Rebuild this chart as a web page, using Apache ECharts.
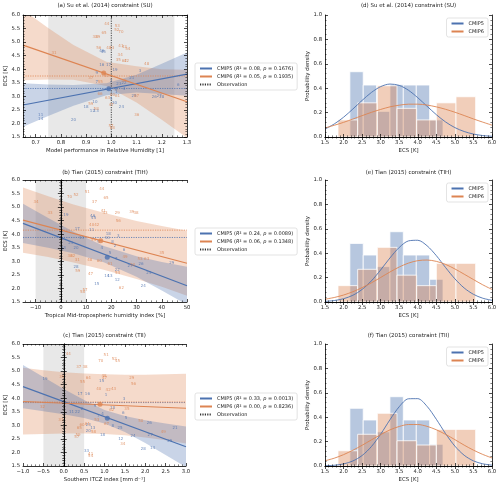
<!DOCTYPE html>
<html><head><meta charset="utf-8">
<script src="https://cdn.jsdelivr.net/npm/echarts@6/dist/echarts.min.js"></script>
<style>html,body{margin:0;padding:0;background:#fff}#c{width:500px;height:487px}</style>
</head><body><div id="c"></div>
<script>
// ================= DATA =================
const C5 = '#4c72b0', C6 = '#dd8452';
const FONT = 'DejaVu Sans';

const panelTitles = ['(a) Su et al. (2014) constraint (SU)', '(b) Tian (2015) constraint (TIH)', '(c) Tian (2015) constraint (TII)',
  '(d) Su et al. (2014) constraint (SU)', '(e) Tian (2015) constraint (TIH)', '(f) Tian (2015) constraint (TII)'];
const xNames = ['Model performance in Relative Humidity [1]', 'Tropical Mid-tropospheric humidity index [%]', 'Southern ITCZ index [mm d\u207B\u00B9]'];
const xMins = [0.65, -15, -1];
const xMaxs = [1.3, 50, 3];
const xTicks = [[0.7, 0.8, 0.9, 1.0, 1.1, 1.2, 1.3], [-10, 0, 10, 20, 30, 40, 50], [-1, -0.5, 0, 0.5, 1, 1.5, 2, 2.5, 3]];
const xDec = [1, 0, 1];
const ecsTicks = [1.5, 2.0, 2.5, 3.0, 3.5, 4.0, 4.5, 5.0, 5.5, 6.0];

const leg5 = ['CMIP5 (R\u00B2 = 0.08, p = 0.1676)', 'CMIP5 (R\u00B2 = 0.24, p = 0.0089)', 'CMIP5 (R\u00B2 = 0.33, p = 0.0013)'];
const leg6 = ['CMIP6 (R\u00B2 = 0.05, p = 0.1935)', 'CMIP6 (R\u00B2 = 0.06, p = 0.1348)', 'CMIP6 (R\u00B2 = 0.00, p = 0.8236)'];

// scatter points [x, ECS, model number]
const a5 = [[0.962,4.15,'16'],[0.989,4.15,'17'],[1.015,3.99,'19'],[1.114,3.95,'3'],[0.942,3.85,'9'],[1.081,3.66,'21'],
  [0.942,3.54,'7'],[1.05,3.50,'22'],[1.02,3.27,'8'],[1.05,3.27,'4'],[1.09,3.0,'25'],[1.17,2.98,'26'],[1.19,3.0,'27'],
  [1.013,2.75,'30'],[1.04,2.62,'24'],[0.90,2.62,'18'],[0.925,2.45,'12'],[0.94,2.47,'13'],[0.72,2.31,'11'],[0.72,2.15,'14'],
  [0.85,2.13,'20'],[0.962,4.67,'46'],[0.968,4.62,'45'],[1.0,3.55,'2'],[1.03,3.45,'23'],[0.935,2.8,'10'],[1.0,2.9,'5'],
  [1.265,3.42,'6'],[1.2,2.98,'28'],[1.02,3.15,'1']];
const a6 = [[0.982,5.66,'44'],[1.024,5.59,'53'],[1.022,5.45,'52'],[1.038,5.36,'70'],[0.971,5.35,'65'],[0.936,5.18,'38'],
  [0.946,5.18,'39'],[1.038,4.87,'41'],[1.051,4.81,'43'],[1.065,4.75,'54'],[0.95,4.77,'56'],[1.002,4.77,'33'],[0.773,4.61,'31'],
  [1.035,4.52,'34'],[1.028,4.34,'35'],[1.051,4.30,'62'],[0.919,3.69,'37'],[0.956,3.54,'55'],[1.005,3.05,'60'],[1.025,3.0,'61'],
  [0.985,2.95,'63'],[1.1,3.0,'67'],[0.919,2.72,'59'],[0.94,2.55,'58'],[1.101,2.31,'36'],[0.999,1.9,'57'],[1.004,1.82,'68'],
  [1.0,2.7,'47'],[1.05,3.55,'49'],[0.98,3.75,'50'],[1.06,4.3,'42'],[0.99,4.77,'40'],[1.14,4.2,'48'],[0.955,3.1,'66']];
const b5 = [[2.0,4.71,'19'],[6.5,4.18,'17'],[12.6,4.67,'46'],[13.0,4.6,'45'],[12.2,4.15,'11'],[18.8,4.0,'18'],[8.2,3.87,'13'],
  [18.4,3.85,'10'],[22.8,3.93,'3'],[3.9,3.66,'21'],[14.9,3.72,'9'],[20.5,3.72,'8'],[1.0,3.48,'23'],[6.0,3.5,'20'],[16.2,3.48,'4'],
  [25,3.42,'6'],[21.5,3.56,'2'],[19.5,3.3,'5'],[6.0,2.78,'28'],[27.4,2.83,'27'],[31.8,2.9,'26'],[22.4,2.68,'22'],[34.9,2.58,'25'],
  [18.2,2.46,'14'],[19.5,2.46,'13'],[22.4,2.33,'12'],[32.7,2.1,'24'],[14.2,2.16,'15'],[0.5,3.45,'1'],[22,3.1,'7'],[44,2.94,'29']];
const b6 = [[16.2,5.66,'44'],[10.5,5.57,'51'],[6.0,5.45,'52'],[3.4,5.38,'70'],[17.9,5.35,'65'],[13.3,5.18,'37'],[-9.8,5.2,'34'],
  [28.1,4.83,'39'],[29.8,4.77,'38'],[-4.3,4.79,'33'],[22.4,4.77,'29'],[16.8,4.86,'41'],[17.5,4.8,'43'],[22.8,4.49,'56'],
  [12.2,4.36,'40'],[14.2,4.34,'42'],[13.0,3.78,'55'],[3.6,3.2,'36'],[4.7,3.2,'32'],[6.5,3.05,'31'],[25.4,3.17,'49'],[11.5,3.05,'48'],
  [15.2,3.02,'60'],[31.4,3.09,'53'],[34,3.09,'63'],[6.7,2.64,'59'],[19.5,2.9,'61'],[11.8,2.53,'47'],[40,3.3,'35'],[9.6,1.94,'57'],
  [8.6,1.86,'58'],[28.5,2.85,'50'],[22.5,2.58,'54'],[24,2.0,'62']];
const c5 = [[-0.46,4.7,'19'],[0.93,4.64,'15'],[0.4,4.16,'17'],[0.58,4.16,'16'],[1.04,4.12,'1'],[1.48,3.98,'3'],[0.19,3.51,'11'],
  [0.34,3.51,'22'],[0.77,3.72,'9'],[1.46,3.47,'6'],[1.53,3.28,'5'],[0.95,3.42,'4'],[1.2,2.98,'8'],[0.71,2.9,'13'],[1.38,2.9,'25'],
  [0.95,2.64,'18'],[2.12,2.64,'27'],[2.18,2.15,'14'],[1.95,2.12,'28'],[1.4,2.48,'12'],[2.73,2.9,'21'],[0.56,2.05,'33'],
  [0.6,2.8,'20'],[0.45,3.6,'2'],[1.2,3.65,'10'],[2.6,2.42,'29'],[0.85,3.35,'7'],[0.6,3.0,'23'],[2.1,3.1,'26'],[1.7,2.6,'24']];
const c6 = [[0.11,5.64,'44'],[1.04,5.58,'51'],[1.24,5.44,'52'],[1.32,5.36,'45'],[0.91,5.36,'70'],[0.37,5.17,'37'],[0.52,5.17,'38'],
  [-0.05,4.77,'39'],[0.46,4.59,'55'],[0.6,4.74,'64'],[0.99,4.82,'48'],[1.0,4.76,'47'],[1.67,4.74,'29'],[1.71,4.52,'56'],
  [0.86,4.33,'40'],[1.09,4.31,'42'],[1.22,4.35,'43'],[-0.52,3.67,'32'],[1.18,3.57,'62'],[-0.07,3.2,'31'],[1.89,3.16,'50'],
  [0.81,3.2,'53'],[1.05,3.05,'67'],[0.58,3.05,'61'],[0.38,2.91,'65'],[0.73,2.74,'58'],[0.32,2.56,'57'],[2.44,2.77,'49'],
  [1.45,2.33,'34'],[0.66,1.96,'41'],[0.66,1.88,'54'],[1.55,3.62,'35'],[0.45,3.0,'60'],[0.35,2.65,'59']];
const pts5 = [a5, b5, c5], pts6 = [a6, b6, c6];

// regression line ECS values at xMin and xMax
const reg5 = [[2.68, 3.82], [4.40, 2.10], [4.43, 2.21]];
const reg6 = [[4.89, 2.80], [4.52, 2.93], [3.88, 3.63]];
// confidence bands
const bandX = [[0.65,0.75,0.85,0.98,1.1,1.2,1.3], [-15,-5,5,17,30,40,50], [-1,-0.5,0,0.5,1,1.5,2,2.5,3]];
const band5Up = [[3.48,3.44,3.42,3.48,3.80,4.20,4.62], [5.12,4.60,4.09,3.57,3.19,2.98,2.80], [5.23,4.78,4.34,3.93,3.57,3.34,3.19,3.07,2.96]];
const band5Lo = [[1.88,2.27,2.65,3.04,3.14,3.09,3.02], [3.68,3.50,3.30,2.97,2.43,1.92,1.40], [3.63,3.52,3.41,3.27,3.07,2.75,2.35,1.91,1.46]];
const band6Up = [[6.19,5.52,4.89,4.28,4.11,4.00,3.98], [5.72,5.40,5.10,4.79,4.49,4.30,4.13], [5.12,5.03,4.96,4.91,4.88,4.87,4.87,4.88,4.90]];
const band6Lo = [[3.59,3.62,3.61,3.38,2.77,2.14,1.47], [3.32,3.16,2.96,2.69,2.35,2.06,1.73], [2.66,2.68,2.70,2.70,2.68,2.63,2.55,2.45,2.33]];
// observations
const obsX = [1.0, 0, 0];
const obsLo = [0.75, -10, -0.5];
const obsHi = [1.25, 10, 0.5];
const constr5 = [3.29, 3.88, 3.84];
const constr6 = [3.75, 4.15, 3.86];
const mean5 = [[0.99, 3.28], [18.4, 3.15], [1.07, 3.26]];
const mean6 = [[0.97, 3.86], [15.8, 3.76], [0.89, 3.78]];

// histograms
const histEdges5 = [2.17, 2.53, 2.89, 3.25, 3.61, 3.96, 4.32, 4.68];
const histEdges6 = [1.85, 2.38, 2.91, 3.44, 3.97, 4.50, 5.03, 5.56];
const hist5 = [[0.535,0.426,0.21,0.43,0.426,0.426,0.14], [0.48,0.385,0.29,0.576,0.385,0.385,0.186], [0.473,0.377,0.28,0.568,0.377,0.377,0.178]];
const hist6 = [[0.14,0.28,0.42,0.235,0.14,0.28,0.33], [0.134,0.268,0.448,0.22,0.134,0.317,0.317], [0.125,0.26,0.432,0.207,0.172,0.30,0.30]];
const pdfX = [1.5,1.75,2,2.25,2.5,2.75,3,3.25,3.5,3.75,4,4.25,4.5,4.75,5,5.25,5.5,5.75,6];
const pdf5 = [
  [0.065,0.107,0.162,0.229,0.300,0.365,0.413,0.434,0.423,0.383,0.322,0.252,0.183,0.123,0.077,0.045,0.024,0.012,0.006],
  [0.005,0.012,0.027,0.055,0.103,0.173,0.263,0.361,0.447,0.501,0.506,0.461,0.380,0.282,0.190,0.115,0.063,0.031,0.014],
  [0.002,0.006,0.017,0.041,0.086,0.159,0.261,0.379,0.486,0.551,0.552,0.489,0.383,0.265,0.163,0.088,0.042,0.018,0.007]];
const pdf6 = [
  [0.074,0.096,0.120,0.147,0.175,0.202,0.226,0.247,0.261,0.269,0.269,0.262,0.247,0.227,0.203,0.176,0.148,0.122,0.097],
  [0.023,0.037,0.057,0.084,0.118,0.157,0.201,0.246,0.287,0.319,0.339,0.344,0.333,0.308,0.271,0.228,0.184,0.141,0.103],
  [0.043,0.064,0.093,0.129,0.170,0.214,0.257,0.296,0.324,0.340,0.340,0.325,0.297,0.259,0.216,0.171,0.130,0.095,0.066]];
const histXTicks = [1.5,2.0,2.5,3.0,3.5,4.0,4.5,5.0,5.5,6.0];
const densTicks = [0,0.2,0.4,0.6,0.8,1.0];

// ================= LAYOUT / STYLE =================
const grids = [
  {left: 23, top: 15, width: 164, height: 122},
  {left: 23, top: 180, width: 164, height: 122},
  {left: 23, top: 344, width: 163, height: 122},
  {left: 325, top: 15, width: 167, height: 122},
  {left: 325, top: 180, width: 167, height: 122},
  {left: 325, top: 344, width: 167, height: 122}
];
const titleY = [6, 173, 336, 6, 173, 336];
const legendTops = [63, 228, 393];

const fmt = d => v => (v < 0 ? '\u2212' : '') + Math.abs(v).toFixed(d);
const lineBlack = {show: true, lineStyle: {color: '#000', width: 0.8}};
const tickStyle = {show: true, inside: true, length: 3, lineStyle: {color: '#000', width: 0.7}};
const minorStyle = {show: true, splitNumber: 5, length: 1.6, lineStyle: {color: '#000', width: 0.5}};
const labelBase = {fontSize: 5.3, color: '#222', fontFamily: FONT, margin: 3};
const nameStyle = {fontSize: 5.4, color: '#222', fontFamily: FONT};

const xAxis = [], yAxis = [], series = [], legend = [], graphic = [];

function addAxes(gi, xmin, xmax, xt, xf, xname, ymin, ymax, yt, yf, yname, yGap) {
  const useInt = xt[1] - xt[0];
  const xCommon = {type: 'value', gridIndex: gi, min: xmin, max: xmax, z: 10, axisLine: lineBlack, splitLine: {show: false}, minorTick: minorStyle};
  const exact = Math.abs(xmin - xt[0]) < 1e-9;
  if (exact) xCommon.interval = useInt;
  xAxis.push(Object.assign({}, xCommon, {
    position: 'bottom', name: xname, nameLocation: 'middle', nameGap: 11, nameTextStyle: nameStyle,
    axisTick: exact ? tickStyle : Object.assign({}, tickStyle, {customValues: xt}),
    axisLabel: exact ? Object.assign({}, labelBase, {formatter: xf}) : Object.assign({}, labelBase, {formatter: xf, customValues: xt})
  }));
  xAxis.push(Object.assign({}, xCommon, {
    position: 'top', axisLabel: {show: false},
    axisTick: exact ? tickStyle : Object.assign({}, tickStyle, {customValues: xt})
  }));
  const yCommon = {type: 'value', gridIndex: gi, min: ymin, max: ymax, interval: yt[1] - yt[0], z: 10, axisLine: lineBlack, splitLine: {show: false}, minorTick: minorStyle, axisTick: tickStyle};
  yAxis.push(Object.assign({}, yCommon, {
    position: 'left', name: yname, nameLocation: 'middle', nameGap: yGap, nameTextStyle: nameStyle,
    axisLabel: Object.assign({}, labelBase, {formatter: yf})
  }));
  yAxis.push(Object.assign({}, yCommon, {position: 'right', axisLabel: {show: false}}));
}

function polyBand(gi, xs, up, lo, color) {
  return {
    type: 'custom', xAxisIndex: 2 * gi, yAxisIndex: 2 * gi, clip: true, silent: true, z: 1,
    data: [[xs[0], up[0]]],
    renderItem: (params, api) => {
      const pts = [];
      for (let i = 0; i < xs.length; i++) pts.push(api.coord([xs[i], up[i]]));
      for (let i = xs.length - 1; i >= 0; i--) pts.push(api.coord([xs[i], lo[i]]));
      const cs = params.coordSys;
      return {type: 'polygon', shape: {points: pts}, style: {fill: color},
        clipPath: {type: 'rect', shape: {x: cs.x, y: cs.y, width: cs.width, height: cs.height}}};
    }
  };
}

function histBars(gi, edges, heights, color) {
  return {
    type: 'custom', xAxisIndex: 2 * gi, yAxisIndex: 2 * gi, silent: true, z: 2,
    data: heights.map((h, i) => [edges[i], edges[i + 1], h]),
    encode: {x: [0, 1], y: 2},
    renderItem: (params, api) => {
      const p0 = api.coord([api.value(0), api.value(2)]);
      const p1 = api.coord([api.value(1), 0]);
      return {type: 'rect', shape: {x: p0[0], y: p0[1], width: p1[0] - p0[0], height: p1[1] - p0[1]},
        style: {fill: color, stroke: '#fff', lineWidth: 0.8}};
    }
  };
}

function legendBase() {
  return {orient: 'vertical', backgroundColor: 'rgba(255,255,255,0.9)', borderColor: '#d0d0d0', borderWidth: 0.6, borderRadius: 2,
    padding: [3, 4, 3, 4], itemGap: 3, itemWidth: 12, itemHeight: 5, selectedMode: false,
    itemStyle: {opacity: 0}};
}

// ---- scatter / regression panels ----
for (let i = 0; i < 3; i++) {
  const xf = fmt(xDec[i]);
  addAxes(i, xMins[i], xMaxs[i], xTicks[i], xf, xNames[i], 1.5, 6.0, ecsTicks, fmt(1), 'ECS [K]', 14);
  const xa = 2 * i;
  series.push(polyBand(i, bandX[i], band6Up[i], band6Lo[i], 'rgba(221,132,82,0.30)'));
  series.push(polyBand(i, bandX[i], band5Up[i], band5Lo[i], 'rgba(76,114,176,0.30)'));
  series.push({
    type: 'line', name: 'Observation', xAxisIndex: xa, yAxisIndex: xa, z: 3, symbol: 'none', silent: true,
    data: [[obsX[i], 1.5], [obsX[i], 6.0]], lineStyle: {color: '#333', width: 0.9, type: [1.2, 1.2]}, itemStyle: {color: '#333'},
    markArea: {silent: true, itemStyle: {color: 'rgba(128,128,128,0.18)'}, data: [[{xAxis: obsLo[i]}, {xAxis: obsHi[i]}]]}
  });
  series.push({type: 'line', xAxisIndex: xa, yAxisIndex: xa, z: 3, symbol: 'none', silent: true,
    data: [[xMins[i], constr5[i]], [xMaxs[i], constr5[i]]], lineStyle: {color: C5, width: 0.8, type: [1.2, 1.2]}});
  series.push({type: 'line', xAxisIndex: xa, yAxisIndex: xa, z: 3, symbol: 'none', silent: true,
    data: [[xMins[i], constr6[i]], [xMaxs[i], constr6[i]]], lineStyle: {color: C6, width: 0.8, type: [1.2, 1.2]}});
  series.push({type: 'line', name: leg5[i], xAxisIndex: xa, yAxisIndex: xa, z: 4, symbol: 'none', silent: true,
    data: [[xMins[i], reg5[i][0]], [xMaxs[i], reg5[i][1]]], lineStyle: {color: C5, width: 1.2}, itemStyle: {color: C5}});
  series.push({type: 'line', name: leg6[i], xAxisIndex: xa, yAxisIndex: xa, z: 4, symbol: 'none', silent: true,
    data: [[xMins[i], reg6[i][0]], [xMaxs[i], reg6[i][1]]], lineStyle: {color: C6, width: 1.2}, itemStyle: {color: C6}});
  [[pts5[i], C5], [pts6[i], C6]].forEach(([d, col]) => {
    series.push({type: 'scatter', xAxisIndex: xa, yAxisIndex: xa, z: 5, silent: true, symbolSize: 1,
      itemStyle: {color: 'rgba(0,0,0,0)'}, data: d,
      label: {show: true, position: 'inside', formatter: p => p.value[2], fontSize: 4, color: col, fontFamily: FONT}});
  });
  series.push({type: 'scatter', xAxisIndex: xa, yAxisIndex: xa, z: 6, silent: true, symbolSize: 5, data: [mean5[i]], itemStyle: {color: C5}});
  series.push({type: 'scatter', xAxisIndex: xa, yAxisIndex: xa, z: 6, silent: true, symbolSize: 5, data: [mean6[i]], itemStyle: {color: C6}});
  legend.push(Object.assign(legendBase(), {
    left: 195, top: legendTops[i], data: [leg5[i], leg6[i], 'Observation'],
    formatter: n => n.replace('R\u00B2', '{i|R}\u00B2').replace('p =', '{i|p} ='),
    textStyle: {fontSize: 5, fontFamily: FONT, color: '#222', rich: {i: {fontStyle: 'italic', fontSize: 5, fontFamily: FONT, color: '#222'}}}
  }));
}

// ---- histogram panels ----
for (let k = 0; k < 3; k++) {
  const gi = 3 + k, xa = 2 * gi;
  addAxes(gi, 1.5, 6.0, histXTicks, fmt(1), 'ECS [K]', 0, 1, densTicks, fmt(1), 'Probability density', 11);
  series.push(histBars(gi, histEdges5, hist5[k], 'rgba(76,114,176,0.40)'));
  series.push(histBars(gi, histEdges6, hist6[k], 'rgba(221,132,82,0.40)'));
  series.push({type: 'line', name: 'CMIP5', xAxisIndex: xa, yAxisIndex: xa, z: 4, symbol: 'none', silent: true, smooth: 0.3,
    data: pdfX.map((x, j) => [x, pdf5[k][j]]), lineStyle: {color: C5, width: 0.9}, itemStyle: {color: C5}});
  series.push({type: 'line', name: 'CMIP6', xAxisIndex: xa, yAxisIndex: xa, z: 4, symbol: 'none', silent: true, smooth: 0.3,
    data: pdfX.map((x, j) => [x, pdf6[k][j]]), lineStyle: {color: C6, width: 0.9}, itemStyle: {color: C6}});
  legend.push(Object.assign(legendBase(), {
    right: 12, top: grids[gi].top + 3, data: ['CMIP5', 'CMIP6'],
    textStyle: {fontSize: 5, fontFamily: FONT, color: '#222'}
  }));
}

// titles
for (let i = 0; i < 6; i++) {
  graphic.push({type: 'text', x: grids[i].left + grids[i].width / 2, y: titleY[i],
    style: {text: panelTitles[i], textAlign: 'center', textVerticalAlign: 'middle', fontSize: 5.5, fontFamily: FONT, fill: '#222'}});
}

const chart = echarts.init(document.getElementById('c'), null, {renderer: 'canvas'});
chart.setOption({
  animation: false,
  backgroundColor: '#fff',
  grid: grids.map(g => Object.assign({containLabel: false}, g)),
  xAxis, yAxis, series, legend, graphic
});
</script></body></html>
